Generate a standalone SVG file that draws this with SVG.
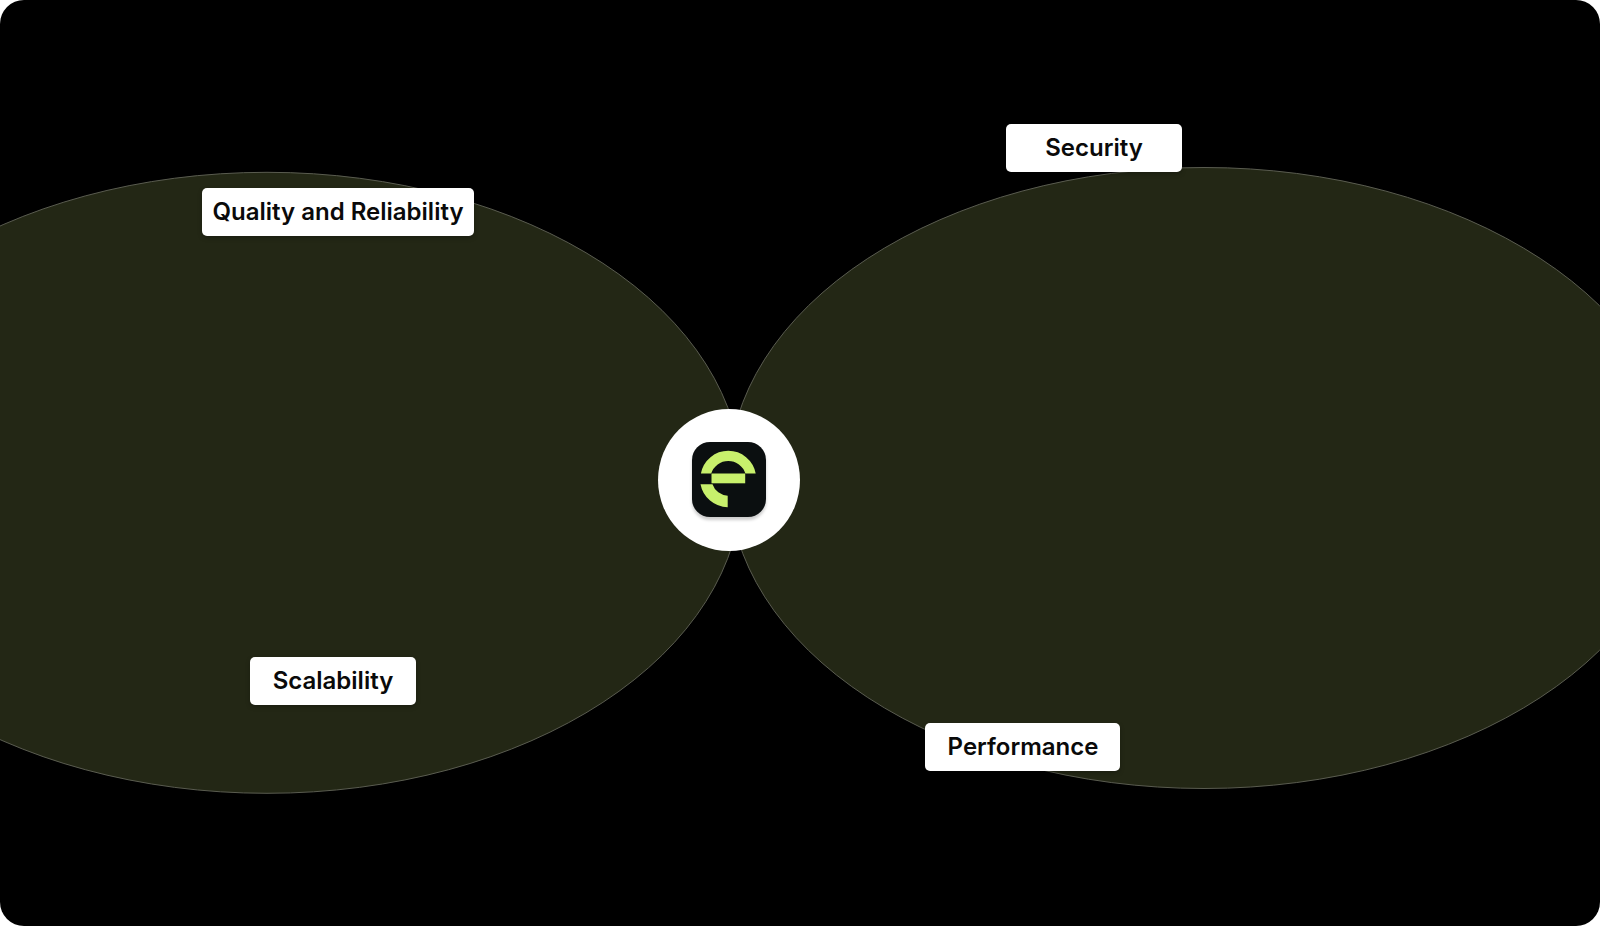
<svg xmlns="http://www.w3.org/2000/svg" width="1600" height="926" viewBox="0 0 1600 926">
<style>
.blob{fill:#232715;stroke:#5a5c50;stroke-width:1}
.box{fill:#fff;filter:url(#ls)}
.lbl{font-family:Inter,"Liberation Sans",sans-serif;font-size:24px;font-weight:600;fill:#0a0a0a;text-anchor:middle;dominant-baseline:central}
.g{fill:#c8f06c}
</style>
<defs>
<filter id="ls" x="-10%" y="-20%" width="120%" height="150%" color-interpolation-filters="sRGB"><feDropShadow dx="0" dy="2" stdDeviation="2" flood-color="#000" flood-opacity="0.25"/></filter>
<filter id="ts" x="-20%" y="-20%" width="140%" height="150%" color-interpolation-filters="sRGB"><feDropShadow dx="0" dy="3" stdDeviation="1.5" flood-color="#000" flood-opacity="0.2"/></filter>
</defs>
<rect width="1600" height="926" fill="#fff"/>
<rect id="background" width="1600" height="926" rx="24" fill="#000"/>
<g id="blob-left"><ellipse class="blob" cx="267" cy="482.8" rx="475" ry="310.5"/></g>
<g id="blob-right"><ellipse class="blob" cx="1204" cy="478" rx="475.5" ry="310.5"/></g>
<g id="connectors"></g>
<g id="hub">
<circle cx="729" cy="480" r="71" fill="#fff"/>
<rect x="692" y="442" width="74" height="75" rx="18" fill="#0b0f10" filter="url(#ts)"/>
<path class="g" d="M700.9 473.5A27.9 27.9 0 0 1 755.7 473.5H745.4A17.9 17.9 0 0 0 711.2 473.5Z"/>
<rect class="g" x="711.5" y="473.5" width="33.7" height="9.8"/>
<path class="g" d="M700.5 484.3H712.5A16.7 16.7 0 0 0 727.7 495.7V507.3A28.3 28.3 0 0 1 700.5 484.3Z"/>
</g>
<g id="quality"><rect class="box" x="202" y="188" width="272" height="48" rx="5"/><text class="lbl" x="338" y="211">Quality and Reliability</text></g>
<g id="security"><rect class="box" x="1006" y="124" width="176" height="48" rx="5"/><text class="lbl" x="1094" y="147">Security</text></g>
<g id="performance"><rect class="box" x="925" y="723" width="195" height="48" rx="5"/><text class="lbl" x="1023" y="746">Performance</text></g>
<g id="scalability"><rect class="box" x="250" y="657" width="166" height="48" rx="5"/><text class="lbl" x="333" y="680">Scalability</text></g>
</svg>
